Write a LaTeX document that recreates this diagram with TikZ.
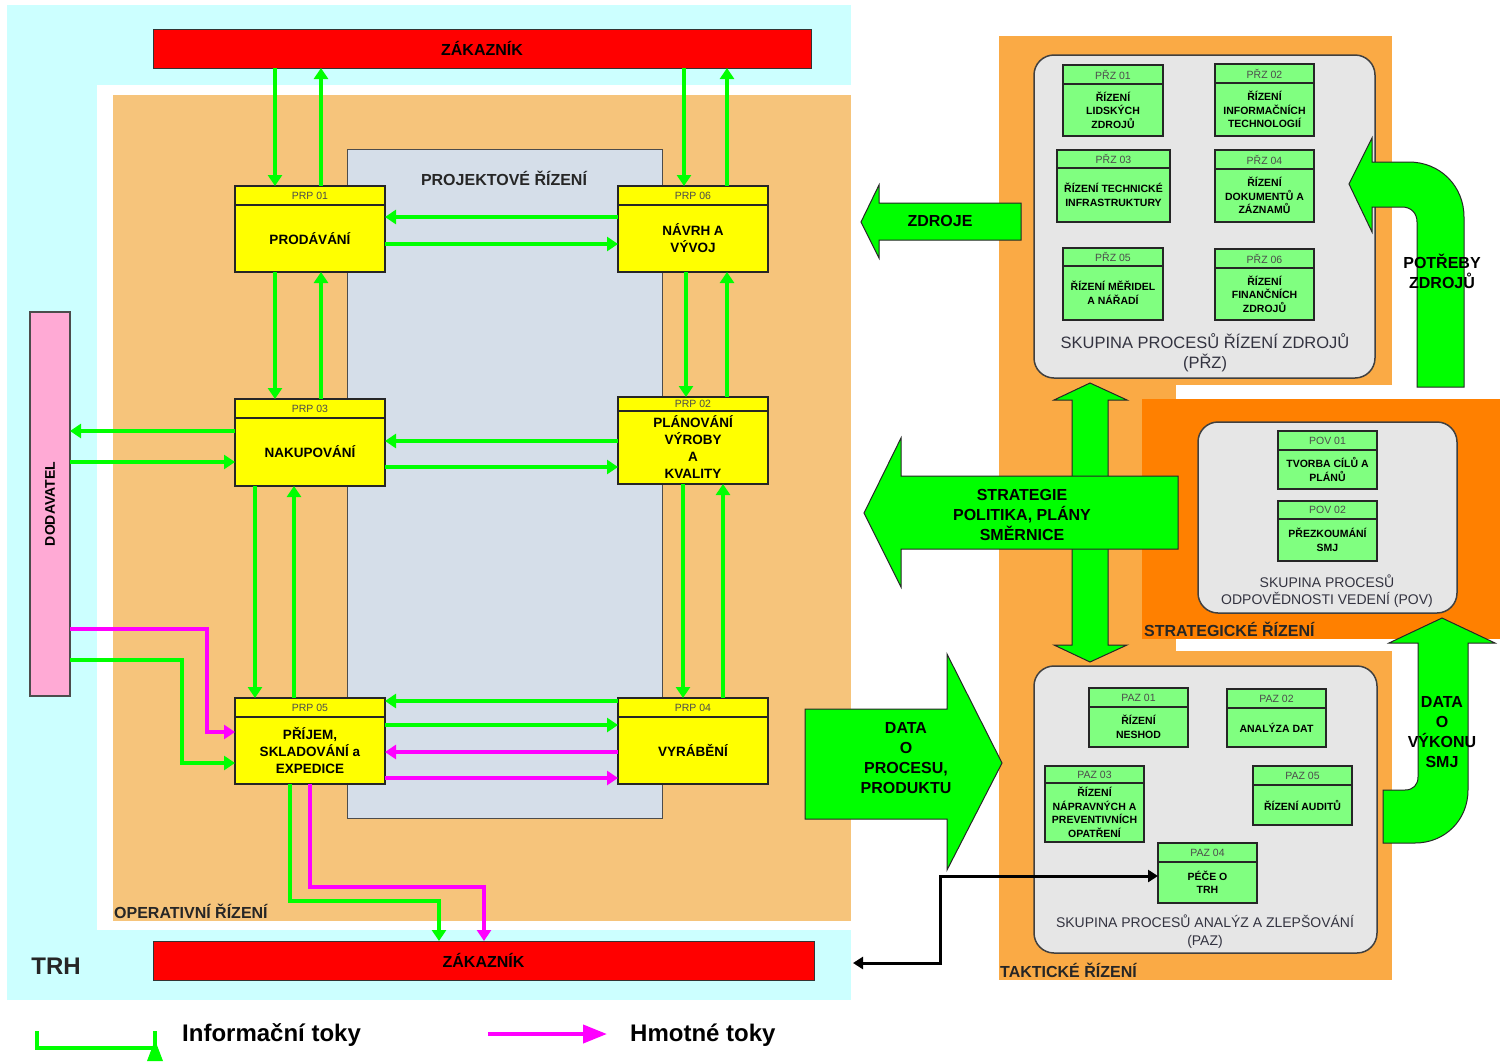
\documentclass[tikz,border=0pt]{standalone}
\usepackage{fontspec}
\setmainfont{Liberation Sans}
\usetikzlibrary{arrows.meta}

\definecolor{trhcyan}{HTML}{CCFFFF}
\definecolor{operor}{HTML}{F6C47B}
\definecolor{projbg}{HTML}{D5DEE9}
\definecolor{taktor}{HTML}{FAAA45}
\definecolor{stratorg}{HTML}{FF8000}
\definecolor{grpgray}{HTML}{E6E6E6}
\definecolor{boxyel}{HTML}{FFFF00}
\definecolor{boxgrn}{HTML}{80FF80}
\definecolor{flowgrn}{HTML}{00FF00}
\definecolor{flowmag}{HTML}{FF00FF}
\definecolor{custred}{HTML}{FF0000}
\definecolor{supppink}{HTML}{FFAAD5}
\definecolor{grptext}{HTML}{333340}

\tikzset{
  y-box/.style={draw=black!85, line width=1.2pt, fill=boxyel, inner sep=0pt, outer sep=0pt},
  y-hdr/.style={font=\fontsize{10.5}{12}\selectfont, text=black!70, inner sep=0pt},
  y-body/.style={font=\fontsize{13.5}{17}\selectfont\bfseries, align=center, inner sep=0pt},
  g-box/.style={draw=black!85, line width=1.2pt, fill=boxgrn, inner sep=0pt, outer sep=0pt},
  g-hdr/.style={font=\fontsize{10.5}{12}\selectfont, text=black!70, inner sep=0pt},
  g-body/.style={font=\fontsize{10.5}{13.5}\selectfont\bfseries, align=center, inner sep=0pt},
  hdrline/.style={draw=black!85, line width=1.2pt},
  info/.style={draw=flowgrn, line width=4pt, -{Triangle[length=11pt,width=14pt]}},
  mat/.style={draw=flowmag, line width=4pt, -{Triangle[length=11pt,width=14pt]}},
  redbar/.style={draw=black!80, line width=1pt, fill=custred, inner sep=0pt, outer sep=0pt,
    font=\fontsize{16}{18}\selectfont\bfseries},
  grpbox/.style={draw=black!75, line width=1.5pt, fill=grpgray, rounded corners=20pt, inner sep=0pt},
  grplabel/.style={text=grptext, align=center, inner sep=0pt},
  region/.style={font=\fontsize{16}{18}\selectfont\bfseries, text=black!85, inner sep=0pt},
  bigarrow/.style={fill=flowgrn, draw=black!85, line width=1pt, line join=miter},
  arrowtext/.style={font=\fontsize{16}{20}\selectfont\bfseries, align=center, inner sep=0pt},
  blkflow/.style={draw=black, line width=3pt, {Triangle[length=10pt,width=12pt]}-{Triangle[length=10pt,width=12pt]}},
  legendtext/.style={font=\fontsize{24}{26}\selectfont\bfseries, inner sep=0pt, anchor=west}
}

% process box with a header strip: name, x1, y1, x2, y2, header line y, style prefix, header, body
\newcommand{\procbox}[9]{%
  \node[#7-box, minimum width={#4-#2}, minimum height={#5-#3}] (#1) at ({(#2+#4)/2},{(#3+#5)/2}) {};
  \draw[hdrline] (#2,#6) -- (#4,#6);
  \node[#7-hdr] (#1-h) at ({(#2+#4)/2},{(#3+#6)/2}) {#8};
  \node[#7-body] (#1-b) at ({(#2+#4)/2},{(#6+#5)/2}) {#9};
}

\begin{document}
\begin{tikzpicture}[x=1pt, y=-1pt]
\useasboundingbox (0,0) rectangle (1510,1061);
\fill[white] (0,0) rectangle (1510,1061);

% market (TRH) and operative management areas
\fill[trhcyan] (7,5) rectangle (851,1000);
\fill[white] (97,85) rectangle (851,930);
\fill[operor] (113,95) rectangle (851,921);
\fill[projbg, draw=black!70, line width=1pt] (347,149) rectangle (662,818);

% tactical and strategic management areas
\fill[taktor] (999,36) rectangle (1392,385);
\fill[taktor] (999,36) rectangle (1176,980);
\fill[taktor] (999,651) rectangle (1392,980);
\fill[stratorg] (1142,399) rectangle (1500,639);

% area titles
\node[font=\fontsize{24}{26}\selectfont\bfseries, text=black!85, inner sep=0pt] (trh) at (56,966) {TRH};
\node[region, anchor=west] (oper) at (114,911) {OPERATIVNÍ ŘÍZENÍ};
\node[region] (proj) at (504,178) {PROJEKTOVÉ ŘÍZENÍ};
\node[region, anchor=west] (strat) at (1144,629) {STRATEGICKÉ ŘÍZENÍ};
\node[region, anchor=west] (takt) at (1000,970) {TAKTICKÉ ŘÍZENÍ};

% customers and supplier
\node[redbar, minimum width=658, minimum height=39] (zt) at (482,48.5) {ZÁKAZNÍK};
\node[redbar, minimum width=661, minimum height=39] (zb) at (483.5,960.5) {ZÁKAZNÍK};
\node[draw=black!70, line width=1.2pt, fill=supppink, minimum width=40, minimum height=384, inner sep=0pt, outer sep=0pt] (dod) at (50,504) {};
\node[rotate=90, font=\fontsize{14}{16}\selectfont\bfseries, inner sep=0pt] (dod-t) at (dod.center) {DODAVATEL};

% main processes
\procbox{p1}{235}{186}{385}{272}{205}{y}{PRP 01}{PRODÁVÁNÍ}
\procbox{p6}{618}{186}{768}{272}{205}{y}{PRP 06}{NÁVRH A\\VÝVOJ}
\procbox{p3}{235}{399}{385}{486}{418}{y}{PRP 03}{NAKUPOVÁNÍ}
\procbox{p2}{618}{397}{768}{484}{411}{y}{PRP 02}{PLÁNOVÁNÍ\\VÝROBY\\A\\KVALITY}
\procbox{p5}{235}{698}{385}{784}{717}{y}{PRP 05}{PŘÍJEM,\\SKLADOVÁNÍ a\\EXPEDICE}
\procbox{p4}{618}{698}{768}{784}{717}{y}{PRP 04}{VYRÁBĚNÍ}

% information and material flows
\draw[info] (zt.south -| 275,0) -- (p1.north -| 275,0);
\draw[info] (p1.north -| 321,0) -- (zt.south -| 321,0);
\draw[info] (zt.south -| 684,0) -- (p6.north -| 684,0);
\draw[info] (p6.north -| 727,0) -- (zt.south -| 727,0);
\draw[info] (p6.west |- 0,217) -- (p1.east |- 0,217);
\draw[info] (p1.east |- 0,244) -- (p6.west |- 0,244);
\draw[info] (p1.south -| 275,0) -- (p3.north -| 275,0);
\draw[info] (p3.north -| 321,0) -- (p1.south -| 321,0);
\draw[info] (p6.south -| 686,0) -- (p2.north -| 686,0);
\draw[info] (p2.north -| 727,0) -- (p6.south -| 727,0);
\draw[info] (p2.west |- 0,441) -- (p3.east |- 0,441);
\draw[info] (p3.east |- 0,467) -- (p2.west |- 0,467);
\draw[info] (p3.west |- 0,431) -- (dod.east |- 0,431);
\draw[info] (dod.east |- 0,462) -- (p3.west |- 0,462);
\draw[info] (p3.south -| 255,0) -- (p5.north -| 255,0);
\draw[info] (p5.north -| 294,0) -- (p3.south -| 294,0);
\draw[info] (p2.south -| 683,0) -- (p4.north -| 683,0);
\draw[info] (p4.north -| 723,0) -- (p2.south -| 723,0);
\draw[info] (p4.west |- 0,701) -- (p5.east |- 0,701);
\draw[info] (p5.east |- 0,725) -- (p4.west |- 0,725);
\draw[mat] (p4.west |- 0,752) -- (p5.east |- 0,752);
\draw[mat] (p5.east |- 0,778) -- (p4.west |- 0,778);
\draw[mat] (dod.east |- 0,629) -- (207,629) -- (207,732) -- (p5.west |- 0,732);
\draw[info] (dod.east |- 0,660) -- (182,660) -- (182,763) -- (p5.west |- 0,763);
\draw[info] (p5.south -| 290,0) -- (290,901) -- (439,901) -- (zb.north -| 439,0);
\draw[mat] (p5.south -| 310,0) -- (310,887) -- (484,887) -- (zb.north -| 484,0);

% resource management group
\node[grpbox, minimum width=341, minimum height=323] (gz) at (1204.5,216.5) {};
\procbox{z1}{1063}{65}{1163}{136}{84}{g}{PŘZ 01}{ŘÍZENÍ\\LIDSKÝCH\\ZDROJŮ}
\procbox{z2}{1215}{64}{1314}{136}{83}{g}{PŘZ 02}{ŘÍZENÍ\\INFORMAČNÍCH\\TECHNOLOGIÍ}
\procbox{z3}{1057}{150}{1170}{222}{168}{g}{PŘZ 03}{ŘÍZENÍ TECHNICKÉ\\INFRASTRUKTURY}
\procbox{z4}{1215}{150}{1314}{222}{169}{g}{PŘZ 04}{ŘÍZENÍ\\DOKUMENTŮ A\\ZÁZNAMŮ}
\procbox{z5}{1063}{248}{1163}{320}{266}{g}{PŘZ 05}{ŘÍZENÍ MĚŘIDEL\\A NÁŘADÍ}
\procbox{z6}{1215}{249}{1314}{320}{268}{g}{PŘZ 06}{ŘÍZENÍ\\FINANČNÍCH\\ZDROJŮ}
\node[grplabel, font=\fontsize{16.5}{20}\selectfont] (gz-t) at (1205,352.5) {SKUPINA PROCESŮ ŘÍZENÍ ZDROJŮ\\(PŘZ)};

% management responsibility group
\node[grpbox, minimum width=259, minimum height=191] (gv) at (1327.5,517.5) {};
\procbox{v1}{1278}{431}{1377}{489}{450}{g}{POV 01}{TVORBA CÍLŮ A\\PLÁNŮ}
\procbox{v2}{1278}{501}{1377}{561}{519}{g}{POV 02}{PŘEZKOUMÁNÍ\\SMJ}
\node[grplabel, font=\fontsize{14}{17}\selectfont] (gv-t) at (1327,591) {SKUPINA PROCESŮ\\ODPOVĚDNOSTI VEDENÍ (POV)};

% analysis and improvement group
\node[grpbox, minimum width=343, minimum height=287] (ga) at (1205.5,809.5) {};
\procbox{a1}{1089}{688}{1188}{747}{707}{g}{PAZ 01}{ŘÍZENÍ\\NESHOD}
\procbox{a2}{1227}{689}{1326}{747}{708}{g}{PAZ 02}{ANALÝZA DAT}
\procbox{a3}{1045}{766}{1144}{842}{783}{g}{PAZ 03}{ŘÍZENÍ\\NÁPRAVNÝCH A\\PREVENTIVNÍCH\\OPATŘENÍ}
\procbox{a5}{1253}{766}{1352}{825}{785}{g}{PAZ 05}{ŘÍZENÍ AUDITŮ}
\procbox{a4}{1158}{843}{1257}{903}{862}{g}{PAZ 04}{PÉČE O\\TRH}
\node[grplabel, font=\fontsize{14}{18}\selectfont] (ga-t) at (1205,932) {SKUPINA PROCESŮ ANALÝZ A ZLEPŠOVÁNÍ\\(PAZ)};

% broad arrows between the management levels
\draw[bigarrow] (1090,383) -- (1127,400) -- (1108,400) -- (1108,645) -- (1127,645)
  -- (1090,662) -- (1054,645) -- (1072,645) -- (1072,400) -- (1054,400) -- cycle;
\draw[bigarrow] (1178,476) -- (901,476) -- (901,438) -- (864,513) -- (901,587)
  -- (901,549) -- (1178,549) -- cycle;
\node[arrowtext] (strat-t) at (1022,515) {STRATEGIE\\POLITIKA, PLÁNY\\SMĚRNICE};
\draw[bigarrow] (1021,203) -- (879,203) -- (879,185) -- (861,222) -- (879,258)
  -- (879,240) -- (1021,240) -- cycle;
\node[arrowtext] (zdroje-t) at (940,221) {ZDROJE};
\draw[bigarrow] (805,709) -- (947,709) -- (947,654) -- (1002,763) -- (947,870)
  -- (947,819) -- (805,819) -- cycle;
\node[arrowtext] (data-t) at (906,758.5) {DATA\\O\\PROCESU,\\PRODUKTU};
\draw[bigarrow] (1417,387) -- (1417,222) .. controls (1417,213) and (1411,207) .. (1402,207)
  -- (1372,207) -- (1372,232) -- (1349,184) -- (1372,138) -- (1372,162) -- (1409,162)
  .. controls (1440,162) and (1464,186) .. (1464,217) -- (1464,387) -- cycle;
\node[arrowtext] (potreby-t) at (1442,271) {POTŘEBY\\ZDROJŮ};
\draw[bigarrow] (1468,643) -- (1468,790) .. controls (1468,820) and (1445,843) .. (1415,843)
  -- (1383,843) -- (1383,790) -- (1405,790) .. controls (1413,790) and (1418,785) .. (1418,777)
  -- (1418,643) -- (1389,643) -- (1442,618) -- (1495,643) -- cycle;
\node[arrowtext] (vykon-t) at (1442,732.5) {DATA\\O\\VÝKONU\\SMJ};

% market care link
\coordinate (zk-end) at (853,963);
\draw[blkflow] (zk-end) -- (940,963) -- (940,876) -- (a4.west |- 0,876);

% legend
\coordinate (lg-a) at (37,1031);
\coordinate (lg-b) at (155,1031);
\draw[flowgrn, line width=4pt] (lg-a) -- (37,1048) -- (155,1048) -- (lg-b);
\fill[flowgrn] (147,1061) -- (155,1040) -- (163,1061) -- cycle;
\node[legendtext] (lg-info) at (182,1035) {Informační toky};
\coordinate (lg-m1) at (488,1034);
\coordinate (lg-m2) at (607,1034);
\draw[draw=flowmag, line width=4pt, -{Triangle[length=24pt,width=18pt]}] (lg-m1) -- (lg-m2);
\node[legendtext] (lg-mat) at (630,1035) {Hmotné toky};
\end{tikzpicture}
\end{document}
